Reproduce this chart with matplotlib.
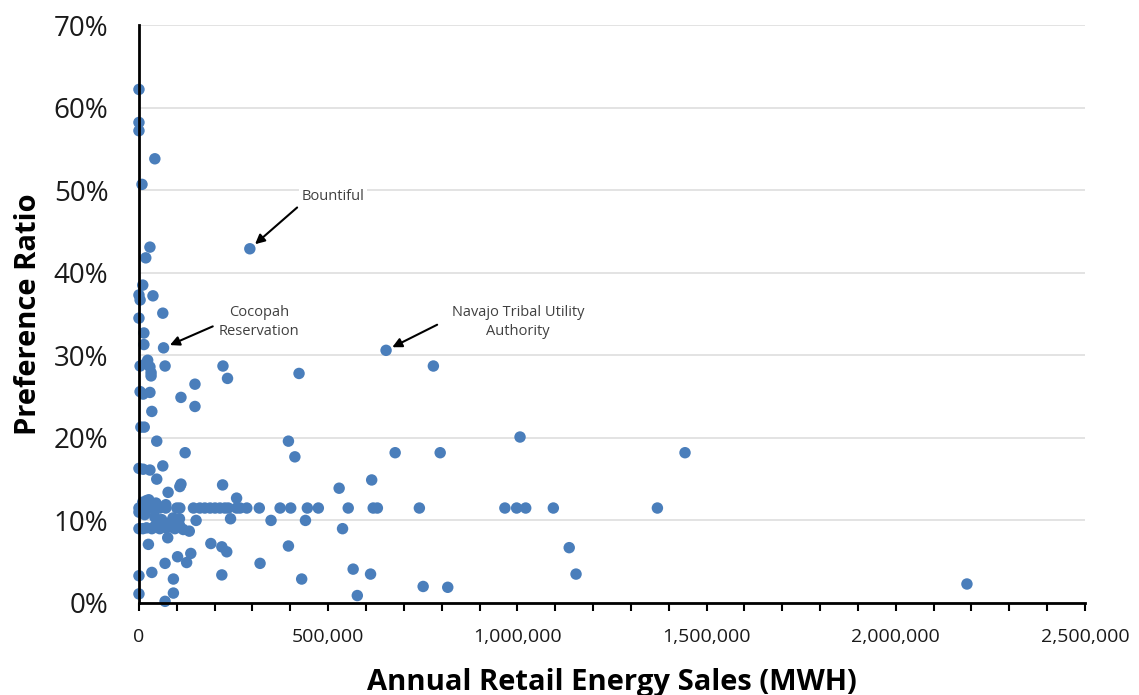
import matplotlib
matplotlib.use('Agg')
import matplotlib.pyplot as plt
from matplotlib.ticker import FuncFormatter, MultipleLocator, PercentFormatter

plt.rcParams['font.family'] = ['Open Sans', 'DejaVu Sans']

# annual retail energy sales (MWH) and preference ratio (%)
sales_upper = [0, 0, 0, 42000, 8000, 29000, 18000, 10000, 0, 37000, 3000, 63000, 0, 13000, 13000,
               65000, 293000, 653000]
ratio_upper = [62.2, 58.2, 57.2, 53.8, 50.7, 43.1, 41.8, 38.5, 37.3, 37.2, 36.7, 35.1, 34.5, 32.7, 31.3,
               30.9, 42.9, 30.6]

sales_mid = [23000, 3000, 18000, 29000, 32000, 32000, 69000, 222000, 234000, 423000, 778000, 148000,
             3000, 11000, 29000, 111000, 148000, 34000, 5000, 14000, 47000, 122000, 395000, 412000,
             1007000, 677000, 796000, 1443000,
             0, 11000, 29000, 63000, 47000, 77000, 108000, 111000, 221000, 258000, 529000, 615000,
             10000, 20000, 30000, 45000, 26000, 71000]
ratio_mid = [29.4, 28.7, 29.0, 28.6, 27.9, 27.5, 28.7, 28.7, 27.2, 27.8, 28.7, 26.5,
             25.6, 25.3, 25.5, 24.9, 23.8, 23.2, 21.3, 21.3, 19.6, 18.2, 19.6, 17.7,
             20.1, 18.2, 18.2, 18.2,
             16.3, 16.2, 16.1, 16.6, 15.0, 13.4, 14.1, 14.4, 14.3, 12.7, 13.9, 14.9,
             12.2, 12.4, 12.0, 12.1, 12.5, 11.9]

# the many utilities sitting on the ~11.5% line
sales_row = [0, 5000, 11000, 16000, 20000, 25000, 29000, 34000, 38000, 47000, 55000, 71000, 100000,
             108000, 144000, 161000, 174000, 188000, 201000, 214000, 227000, 236000, 258000, 267000,
             285000, 318000, 373000, 401000, 445000, 474000, 553000, 619000, 630000, 741000, 967000,
             998000, 1022000, 1095000, 1370000]
ratio_row = [11.5] * len(sales_row)

sales_low = [0, 42000, 60000, 90000, 107000, 151000, 242000, 349000, 440000, 105000, 15000,
             0, 10000, 20000, 34000, 42000, 55000, 64000, 73000, 86000, 95000, 108000, 117000, 133000,
             50000, 80000, 538000,
             25000, 76000, 190000, 219000, 232000, 395000, 137000, 102000, 69000, 126000, 320000,
             1137000, 0, 34000, 219000, 91000, 430000, 566000, 612000, 1155000, 0, 91000, 69000,
             577000, 751000, 816000, 2188000]
ratio_low = [11.0, 10.4, 10.1, 10.3, 10.2, 10.0, 10.2, 10.0, 10.0, 9.6, 10.7,
             9.0, 9.0, 9.1, 9.0, 9.3, 9.0, 9.3, 9.1, 9.2, 9.0, 9.3, 8.9, 8.7,
             9.6, 9.7, 9.0,
             7.1, 7.9, 7.2, 6.8, 6.2, 6.9, 6.0, 5.6, 4.8, 4.9, 4.8,
             6.7, 3.3, 3.7, 3.4, 2.9, 2.9, 4.1, 3.5, 3.5, 1.1, 1.2, 0.2,
             0.9, 2.0, 1.9, 2.3]

sales = sales_upper + sales_mid + sales_row + sales_low
ratio = ratio_upper + ratio_mid + ratio_row + ratio_low

# labelled utilities: (name, point, text position, arrow tail)
labels = [
    ('Bountiful', (293000, 42.9), (513000, 49.2), (418000, 47.9)),
    ('Cocopah\nReservation', (65000, 30.9), (317000, 34.0), (195000, 33.5)),
    ('Navajo Tribal Utility\nAuthority', (653000, 30.6), (1002000, 34.0), (788000, 33.7)),
]

fig = plt.figure(figsize=(11.39, 6.95), dpi=100)
ax = fig.add_axes([0.122, 0.1324, 0.8306, 0.8316])

ax.scatter(sales, ratio, s=68, color='#4a7ebb', edgecolors='none', zorder=3, clip_on=False)

for name, pt, txt, tail in labels:
    ax.text(txt[0], txt[1], name, ha='center', va='center', fontsize=10.5, color='#404040',
            linespacing=1.4, zorder=2,
            bbox=dict(facecolor='white', edgecolor='none', pad=2))
    ax.annotate('', xy=pt, xytext=tail,
                arrowprops=dict(arrowstyle='-|>', color='black', lw=1.5,
                                mutation_scale=14, shrinkA=0, shrinkB=5),
                zorder=4)

ax.set_xlim(0, 2500000)
ax.set_ylim(0, 70)
ax.xaxis.set_major_locator(MultipleLocator(500000))
ax.xaxis.set_minor_locator(MultipleLocator(100000))
ax.yaxis.set_major_locator(MultipleLocator(10))
ax.xaxis.set_major_formatter(FuncFormatter(lambda v, p: f'{int(v):,}'))
ax.yaxis.set_major_formatter(PercentFormatter(xmax=100, decimals=0))

ax.grid(axis='y', color='#dedede', lw=1.2, zorder=0)
ax.set_axisbelow(True)

for s in ['top', 'right']:
    ax.spines[s].set_visible(False)
for s in ['left', 'bottom']:
    ax.spines[s].set_linewidth(2)
    ax.spines[s].set_color('black')
    ax.spines[s].set_zorder(5)

ax.tick_params(axis='x', which='both', direction='out', length=6, width=1.5, pad=12,
               labelsize=14, labelcolor='#1a1a1a')
ax.tick_params(axis='y', which='both', length=0, pad=22, labelsize=20, labelcolor='#1a1a1a')

ax.set_xlabel('Annual Retail Energy Sales (MWH)', fontsize=21, fontweight='bold', labelpad=16)
ax.set_ylabel('Preference Ratio', fontsize=21, fontweight='bold', labelpad=8)

plt.savefig('out.png', dpi=100)
